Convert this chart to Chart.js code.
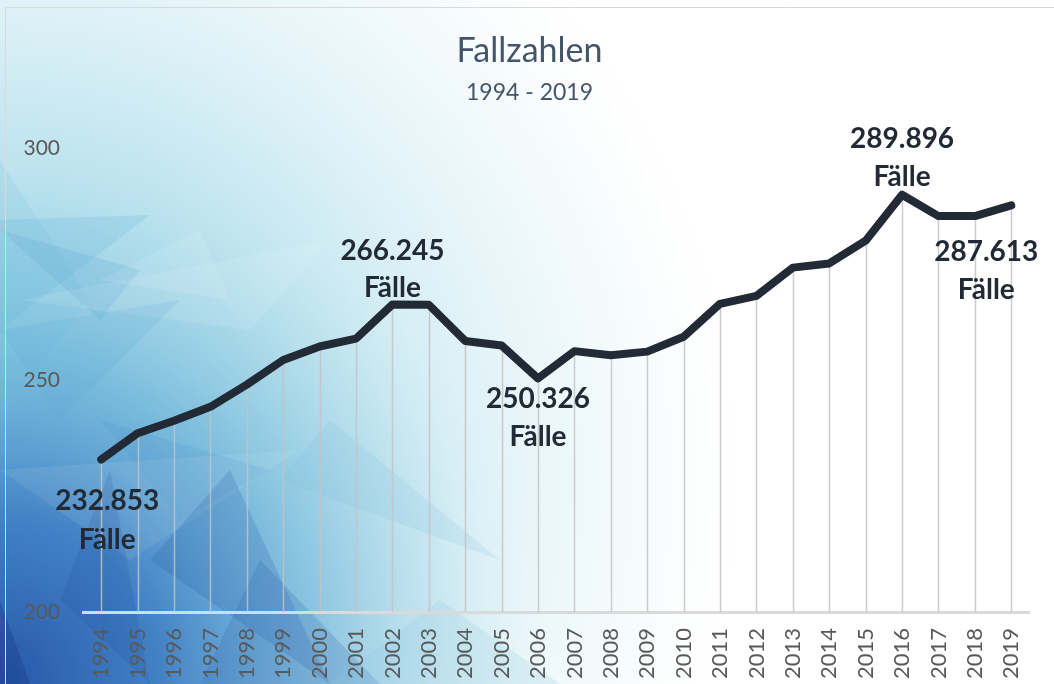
<!DOCTYPE html>
<html>
<head>
<meta charset="utf-8">
<script src="https://cdn.jsdelivr.net/npm/chart.js@4.4.1/dist/chart.umd.min.js"></script>
<style>
  html, body { margin: 0; padding: 0; background: #fff; }
  #wrap { width: 1054px; height: 684px; }
</style>
</head>
<body>
<div id="wrap"><canvas id="lineChart"></canvas></div>
<script>
// Fallzahlen in Tausend
const years = ['1994', '1995', '1996', '1997', '1998', '1999', '2000', '2001', '2002', '2003', '2004', '2005', '2006',
    '2007', '2008', '2009', '2010', '2011', '2012', '2013', '2014', '2015', '2016', '2017', '2018', '2019'];
const cases = [232.853, 238.5, 241.2, 244.2, 249.0, 254.3, 257.2, 258.9, 266.245, 266.2, 258.4, 257.4, 250.326,
    256.2, 255.3, 256.1, 259.3, 266.4, 268.1, 274.2, 275.1, 280.0, 289.896, 285.3, 285.3, 287.613];
const yTicks = [200, 250, 300];
const labelled = [0, 8, 12, 22, 25];

// label offsets (px) relative to the point: [dx, dy first line, dy second line]
const labelOffsets = {
    0: [6, 41, 80],
    8: [0, -54, -17],
    12: [0, 21, 59],
    22: [0, -56, -18],
    25: [-25, 47, 85]
};

function tri(ctx, p, color) {
    ctx.beginPath();
    ctx.moveTo(p[0], p[1]);
    for (let i = 2; i < p.length; i += 2) ctx.lineTo(p[i], p[i + 1]);
    ctx.closePath();
    ctx.fillStyle = color;
    ctx.fill();
}

const backgroundArt = {
    id: 'backgroundArt',
    beforeDraw(chart) {
        const ctx = chart.ctx;
        const w = chart.width, h = chart.height;
        ctx.save();
        ctx.fillStyle = '#ffffff';
        ctx.fillRect(0, 0, w, h);

        // pale cyan wash from the left
        let g = ctx.createRadialGradient(0, 480, 0, 0, 480, 760);
        g.addColorStop(0, '#8ccbe3');
        g.addColorStop(0.35, '#b3dfec');
        g.addColorStop(0.6, '#dbf0f6');
        g.addColorStop(0.85, 'rgba(240,249,251,0.6)');
        g.addColorStop(1, 'rgba(255,255,255,0)');
        ctx.fillStyle = g;
        ctx.fillRect(0, 0, w, h);

        // deep blue corner
        g = ctx.createRadialGradient(0, h, 0, 0, h, 540);
        g.addColorStop(0, 'rgba(38,86,168,1)');
        g.addColorStop(0.3, 'rgba(58,122,194,0.92)');
        g.addColorStop(0.6, 'rgba(95,170,212,0.55)');
        g.addColorStop(0.85, 'rgba(150,205,225,0.2)');
        g.addColorStop(1, 'rgba(200,230,240,0)');
        ctx.fillStyle = g;
        ctx.fillRect(0, 0, w, h);

        // faceted shards
        tri(ctx, [0, 220, 150, 215, 0, 330], 'rgba(90,170,215,0.18)');
        tri(ctx, [0, 230, 140, 270, 100, 320], 'rgba(70,150,205,0.16)');
        tri(ctx, [0, 160, 90, 300, 0, 420], 'rgba(110,185,220,0.15)');
        tri(ctx, [100, 280, 200, 230, 230, 300], 'rgba(255,255,255,0.1)');
        tri(ctx, [20, 300, 330, 240, 250, 330], 'rgba(255,255,255,0.1)');
        tri(ctx, [0, 330, 180, 300, 60, 420], 'rgba(80,160,210,0.14)');
        tri(ctx, [100, 420, 270, 470, 180, 520], 'rgba(70,140,200,0.15)');
        tri(ctx, [0, 470, 300, 450, 130, 560], 'rgba(255,255,255,0.08)');
        tri(ctx, [150, 560, 230, 470, 330, 684], 'rgba(30,80,160,0.18)');
        tri(ctx, [0, 600, 30, 684, 0, 684], 'rgba(20,50,130,0.3)');
        tri(ctx, [200, 684, 260, 560, 380, 684], 'rgba(40,95,175,0.2)');
        tri(ctx, [280, 480, 330, 420, 500, 560], 'rgba(120,185,215,0.16)');
        tri(ctx, [330, 684, 440, 600, 560, 684], 'rgba(140,200,225,0.22)');
        tri(ctx, [60, 600, 110, 470, 150, 684], 'rgba(30,70,150,0.15)');

        ctx.strokeStyle = '#d9d9d9';
        ctx.lineWidth = 1;
        ctx.beginPath();
        ctx.moveTo(5.5, h);
        ctx.lineTo(5.5, 7.5);
        ctx.lineTo(w, 7.5);
        ctx.stroke();
        ctx.restore();
    }
};

const dropLines = {
    id: 'dropLines',
    beforeDatasetsDraw(chart) {
        const ctx = chart.ctx;
        const bottom = chart.chartArea.bottom;
        ctx.save();
        ctx.strokeStyle = 'rgba(195,195,195,0.85)';
        ctx.lineWidth = 1.5;
        chart.getDatasetMeta(0).data.forEach(pt => {
            ctx.beginPath();
            ctx.moveTo(Math.round(pt.x) + 0.5, pt.y);
            ctx.lineTo(Math.round(pt.x) + 0.5, bottom);
            ctx.stroke();
        });
        ctx.restore();
    }
};

const valueLabels = {
    id: 'valueLabels',
    afterDatasetsDraw(chart) {
        const ctx = chart.ctx;
        const meta = chart.getDatasetMeta(0);
        ctx.save();
        ctx.font = 'bold 28px Lato';
        ctx.fillStyle = '#222a35';
        ctx.textAlign = 'center';
        ctx.textBaseline = 'middle';
        labelled.forEach(i => {
            const pt = meta.data[i];
            const off = labelOffsets[i];
            ctx.fillText(cases[i].toFixed(3), pt.x + off[0], pt.y + off[1]);
            ctx.fillText('Fälle', pt.x + off[0], pt.y + off[2]);
        });
        ctx.restore();
    }
};

const ctx = document.getElementById('lineChart').getContext('2d');
const lineChart = new Chart(ctx, {
    type: 'line',
    data: {
        labels: years,
        datasets: [{
            label: 'Fallzahlen',
            data: cases,
            borderColor: '#222a35',
            borderWidth: 8,
            borderCapStyle: 'round',
            borderJoinStyle: 'round',
            pointRadius: 0,
            tension: 0,
            fill: false
        }]
    },
    options: {
        responsive: true,
        maintainAspectRatio: false,
        animation: false,
        layout: {
            padding: { top: 8, left: 22, right: 17, bottom: 0 }
        },
        scales: {
            x: {
                offset: true,
                grid: { display: false, drawTicks: false },
                border: { display: true, color: '#dadada', width: 3 },
                afterFit: axis => { axis.height = 72; },
                ticks: {
                    minRotation: 90,
                    maxRotation: 90,
                    padding: 16,
                    color: '#595959',
                    font: { family: 'Lato', size: 22 }
                }
            },
            y: {
                min: 200,
                max: 308.5,
                grid: { display: false, drawTicks: false },
                border: { display: false },
                afterFit: axis => { axis.width = 61; },
                afterBuildTicks: axis => {
                    axis.ticks = yTicks.map(v => ({ value: v }));
                },
                ticks: {
                    padding: 23,
                    color: '#595959',
                    font: { family: 'Lato', size: 21 }
                }
            }
        },
        plugins: {
            legend: { display: false },
            tooltip: { enabled: false },
            title: {
                display: true,
                text: 'Fallzahlen',
                color: '#44546a',
                font: { family: 'Lato', size: 34, weight: 'normal' },
                padding: { top: 23, bottom: 7 }
            },
            subtitle: {
                display: true,
                text: '1994 - 2019',
                color: '#44546a',
                font: { family: 'Lato', size: 23, weight: 'normal' },
                padding: { top: 0, bottom: 2 }
            }
        }
    },
    plugins: [backgroundArt, dropLines, valueLabels]
});
</script>
</body>
</html>
